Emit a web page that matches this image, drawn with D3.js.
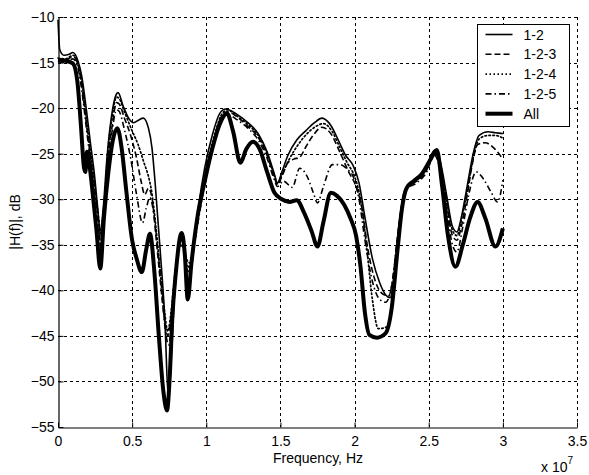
<!DOCTYPE html>
<html>
<head>
<meta charset="utf-8">
<script src="https://cdn.jsdelivr.net/npm/d3@7/dist/d3.min.js"></script>
<style>
  html, body { margin: 0; padding: 0; background: #fff; }
  svg { display: block; }
  text { font-family: "Liberation Sans", Arial, sans-serif; fill: #000; }
</style>
</head>
<body>
<svg id="chart" width="589" height="475"></svg>
<script>
// Transfer-function magnitude |H(f)| in dB; frequency in MHz (axis shows units of 1e7 Hz)
const xTicks = [0, 5, 10, 15, 20, 25, 30, 35];
const yTicks = [-10, -15, -20, -25, -30, -35, -40, -45, -50, -55];
const seriesNames = ["1-2", "1-2-3", "1-2-4", "1-2-5", "All"];

const s12 = [[0,-10.3],[0.12,-13.6],[0.4,-14.2],[0.75,-14.1],[1.0,-13.9],[1.3,-14.6],[1.6,-16.5],[1.9,-20],[2.2,-24],[2.45,-27.2],[2.65,-30.5],[2.85,-33.5],[3.05,-31],[3.3,-25.5],[3.6,-21],[3.9,-18.6],[4.05,-18.3],[4.4,-19.8],[4.8,-21.2],[5.1,-21.6],[5.45,-21.3],[5.75,-21.1],[6.1,-22.2],[6.34,-24.4],[6.54,-28],[6.88,-35.4],[7.2,-43],[7.45,-52],[7.62,-48],[7.8,-42],[8.1,-36],[8.35,-34],[8.55,-36],[8.8,-39.5],[9.1,-36],[9.5,-30.5],[9.9,-26.5],[10.4,-23],[10.9,-20.6],[11.3,-20.1],[12.0,-20.6],[12.8,-21.6],[13.5,-22.8],[14.1,-24.8],[14.55,-27],[14.8,-28.2],[15.1,-27],[15.5,-25.2],[16.1,-23.5],[16.7,-22.5],[17.3,-21.6],[17.8,-21.1],[18.4,-21.9],[18.9,-23.5],[19.4,-25.2],[19.9,-26.3],[20.3,-28.2],[20.7,-32],[21.2,-36.5],[21.7,-39.2],[22.1,-40.5],[22.4,-40.8],[22.7,-38],[23.0,-33],[23.3,-29.5],[23.7,-28.2],[24.2,-27.8],[24.8,-26.6],[25.4,-24.6],[25.8,-26],[26.2,-29.5],[26.6,-33],[26.9,-33.6],[27.2,-32],[27.6,-28.5],[28.0,-25],[28.4,-23],[29.0,-22.6],[29.5,-22.7],[30,-22.8]];

const s123 = [[0,-14.7],[0.5,-14.8],[1.0,-14.3],[1.3,-15],[1.6,-17.5],[1.9,-21.5],[2.2,-25.5],[2.45,-28.5],[2.7,-32],[2.9,-35],[3.1,-32],[3.35,-26],[3.65,-22],[3.95,-19.4],[4.1,-19.5],[4.5,-21.2],[4.9,-23],[5.3,-25.5],[5.6,-28],[5.85,-29.5],[6.1,-28.8],[6.35,-30],[6.6,-34],[6.9,-39],[7.2,-43.5],[7.4,-45],[7.65,-42.5],[7.9,-38.5],[8.2,-35],[8.4,-34.5],[8.65,-37],[8.9,-37.5],[9.2,-34.5],[9.6,-30.5],[10.0,-27],[10.5,-23.5],[11.0,-21],[11.4,-20.4],[12.1,-21],[12.8,-22],[13.5,-23.2],[14.1,-25.2],[14.55,-27.4],[14.8,-28.4],[15.1,-27.5],[15.5,-26],[15.9,-25.6],[16.3,-25.4],[16.7,-24.3],[17.2,-23],[17.8,-22.1],[18.4,-22.8],[19.0,-24.8],[19.6,-27],[20.1,-28.6],[20.5,-31],[20.9,-35.5],[21.4,-39],[21.9,-40.4],[22.3,-40.6],[22.6,-38.5],[22.9,-34],[23.2,-30.5],[23.6,-28.6],[24.1,-28.1],[24.8,-27],[25.4,-25],[25.8,-26.7],[26.2,-30.5],[26.6,-34],[26.9,-34.5],[27.2,-33],[27.6,-29.5],[27.9,-26.5],[28.3,-24],[28.8,-23.8],[29.4,-24.4],[30,-25.6]];

const s124 = [[0,-14.5],[0.5,-14.6],[1.0,-14.2],[1.3,-14.9],[1.6,-17],[1.9,-21],[2.2,-25],[2.45,-28],[2.7,-31.5],[2.9,-34],[3.1,-31],[3.35,-25],[3.65,-21],[3.95,-18.8],[4.1,-18.9],[4.5,-20.5],[5.0,-22.5],[5.4,-24],[5.8,-26],[6.1,-27.5],[6.35,-29.5],[6.6,-33],[6.9,-38],[7.2,-42.5],[7.4,-44.5],[7.65,-42],[7.9,-38],[8.2,-34.5],[8.4,-34],[8.65,-36.5],[8.9,-37],[9.2,-34],[9.6,-30],[10.0,-26.5],[10.5,-23.3],[11.0,-20.8],[11.4,-20.2],[12.1,-20.9],[12.8,-21.8],[13.5,-23],[14.1,-25],[14.55,-27.2],[14.8,-28.3],[15.1,-27.3],[15.6,-25.6],[16.2,-24],[16.8,-22.8],[17.4,-22],[17.9,-21.7],[18.5,-22.6],[19.0,-24.3],[19.5,-26],[20.0,-27.5],[20.4,-30],[20.8,-35],[21.2,-41],[21.6,-44.2],[22.2,-44],[22.6,-40],[22.9,-35],[23.2,-30.5],[23.6,-28.5],[24.1,-28],[24.8,-26.8],[25.4,-24.8],[25.8,-26.5],[26.2,-30],[26.6,-33.4],[26.9,-34],[27.2,-32.3],[27.6,-29],[28.0,-25.5],[28.4,-23.4],[29.0,-23],[29.5,-23],[30,-23.3]];

const s125 = [[0,-14.9],[0.5,-15],[1.0,-14.6],[1.3,-15.3],[1.6,-18],[1.9,-22],[2.2,-26],[2.45,-29],[2.7,-32.5],[2.9,-35.5],[3.1,-32.5],[3.35,-26.5],[3.65,-22.5],[3.95,-20.2],[4.1,-20.3],[4.5,-22.5],[4.9,-25.5],[5.3,-29.5],[5.7,-32.6],[5.95,-31],[6.2,-29.8],[6.45,-31.5],[6.7,-35],[7.0,-40],[7.25,-44.5],[7.45,-46],[7.7,-43],[7.95,-38.5],[8.2,-35.5],[8.4,-35],[8.65,-37.5],[8.9,-38],[9.2,-35],[9.6,-31],[10.0,-27.5],[10.5,-24],[11.0,-21.3],[11.4,-20.7],[12.1,-21.3],[12.8,-22.2],[13.5,-23.5],[14.1,-25.5],[14.55,-27.7],[14.8,-28.6],[15.2,-28],[15.8,-28.7],[16.3,-26.6],[16.8,-27.5],[17.2,-29.2],[17.5,-30.4],[17.9,-28.6],[18.5,-26.2],[19.0,-26.2],[19.5,-26.7],[19.9,-27.5],[20.3,-30],[20.7,-34.5],[21.2,-39],[21.7,-41],[22.1,-41.3],[22.5,-39.5],[22.85,-35],[23.2,-30.8],[23.6,-28.8],[24.1,-28.3],[24.8,-27.2],[25.4,-25.2],[25.8,-27],[26.2,-31],[26.6,-35],[26.9,-35.8],[27.3,-33],[27.7,-29.5],[28.2,-27],[28.7,-27.8],[29.2,-29.2],[29.65,-30.3],[30,-27.9]];

const sAll = [[0,-14.7],[0.5,-14.8],[1.0,-15.1],[1.3,-17],[1.55,-22],[1.75,-26.5],[1.85,-27],[1.95,-24.8],[2.1,-26],[2.35,-29.5],[2.6,-33.5],[2.85,-37.6],[3.1,-32],[3.4,-27],[3.7,-23.5],[4.0,-22.2],[4.3,-24.5],[4.6,-29],[5.0,-34.5],[5.3,-36.5],[5.65,-38],[5.95,-35.5],[6.2,-33.8],[6.5,-38],[6.8,-45],[7.1,-51],[7.35,-53.2],[7.55,-49],[7.7,-43.3],[7.95,-38],[8.25,-34],[8.35,-33.7],[8.55,-36],[8.75,-41],[9.0,-37],[9.4,-32],[9.9,-28],[10.4,-24.5],[10.9,-21.8],[11.4,-20.6],[11.8,-22.5],[12.3,-26],[12.7,-24.5],[13.15,-23.7],[13.6,-24.5],[14.1,-27],[14.6,-29.3],[15.1,-30],[15.6,-30.3],[16.1,-30.1],[16.6,-31.5],[17.1,-33.5],[17.5,-35.2],[17.9,-32.5],[18.4,-29.3],[18.8,-29.6],[19.3,-30.6],[19.7,-32],[20.1,-34],[20.4,-37.4],[20.7,-42.5],[21.0,-44.9],[21.5,-45.2],[22.1,-44.7],[22.5,-42],[22.9,-35.5],[23.2,-31],[23.5,-28.8],[24.0,-28],[24.5,-27.3],[25.1,-25.7],[25.55,-24.6],[25.9,-28.5],[26.3,-34],[26.8,-37.4],[27.3,-35],[27.8,-32],[28.3,-30.3],[28.8,-32],[29.5,-35.2],[30,-33.2]];

const seriesData = [s12, s123, s124, s125, sAll];
const seriesStyle = [
  { width: 1.6, dash: null },
  { width: 1.6, dash: "6,3" },
  { width: 1.7, dash: "1.5,2.5" },
  { width: 1.6, dash: "6,3,1.5,3" },
  { width: 4, dash: null }
];

const svg = d3.select("#chart");
const x = d3.scaleLinear().domain([0, 35]).range([58, 577]);
const y = d3.scaleLinear().domain([-55, -10]).range([427, 17]);

// grid
const grid = svg.append("g").attr("stroke", "#000").attr("stroke-width", 1)
  .attr("stroke-dasharray", "3,3").attr("shape-rendering", "crispEdges");
grid.selectAll("line.gx").data(xTicks.filter(t => t > 0)).join("line")
  .attr("x1", d => Math.round(x(d)) + 0.5).attr("x2", d => Math.round(x(d)) + 0.5)
  .attr("y1", y(-10)).attr("y2", y(-55));
grid.selectAll("line.gy").data(yTicks.filter(t => t > -55)).join("line")
  .attr("y1", d => Math.round(y(d)) + 0.5).attr("y2", d => Math.round(y(d)) + 0.5)
  .attr("x1", x(0)).attr("x2", x(35));

// axes with inward ticks
const fmtX = d => d3.format("~g")(d / 10);
const xAxis = svg.append("g").attr("transform", `translate(0,${Math.round(y(-55)) + 0.5})`)
  .call(d3.axisBottom(x).tickValues(xTicks).tickFormat(fmtX).tickSizeInner(-5).tickSizeOuter(0).tickPadding(9));
const yAxis = svg.append("g").attr("transform", `translate(${Math.round(x(0)) + 0.5},0)`)
  .call(d3.axisLeft(y).tickValues(yTicks).tickFormat(d3.format("d")).tickSizeInner(-5).tickSizeOuter(0).tickPadding(5));
[xAxis, yAxis].forEach(a => {
  a.select(".domain").attr("stroke", "#000").attr("stroke-width", 1.2);
  a.selectAll(".tick line").attr("stroke", "#000");
  a.selectAll("text").style("font-size", "14px").attr("fill", "#000")
    .style("font-family", "'Liberation Sans', Arial, sans-serif");
});
yAxis.selectAll(".tick text").attr("x", -4);

// curves
const line = d3.line().x(d => x(d[0])).y(d => y(d[1])).curve(d3.curveMonotoneX);
const curves = svg.append("g").attr("fill", "none").attr("stroke", "#000")
  .attr("stroke-linejoin", "round");
seriesData.forEach((data, i) => {
  curves.append("path").datum(data).attr("d", line)
    .attr("stroke-width", seriesStyle[i].width)
    .attr("stroke-dasharray", seriesStyle[i].dash)
    .attr("stroke-linecap", i === 2 ? "round" : "butt");
});

// axis titles
svg.append("text").attr("x", 318).attr("y", 463).attr("text-anchor", "middle")
  .style("font-size", "14px").text("Frequency, Hz");
svg.append("text").attr("transform", "translate(20,222) rotate(-90)")
  .attr("text-anchor", "middle").style("font-size", "14px").text("|H(f)|, dB");
const exp = svg.append("text").attr("x", 541).attr("y", 472).style("font-size", "14px");
exp.append("tspan").text("x 10");
exp.append("tspan").attr("dy", -8).style("font-size", "10px").text("7");

// legend
const lg = svg.append("g").attr("transform", "translate(477.5,24.5)");
lg.append("rect").attr("width", 92).attr("height", 102).attr("fill", "#fff").attr("stroke", "#000");
seriesNames.forEach((name, i) => {
  const yy = 10 + i * 19.8;
  lg.append("line").attr("x1", 8).attr("x2", 35).attr("y1", yy).attr("y2", yy)
    .attr("stroke", "#000").attr("stroke-width", seriesStyle[i].width)
    .attr("stroke-dasharray", seriesStyle[i].dash);
  lg.append("text").attr("x", 46).attr("y", yy).attr("dy", "0.36em")
    .style("font-size", "14px").text(name);
});
</script>
</body>
</html>
